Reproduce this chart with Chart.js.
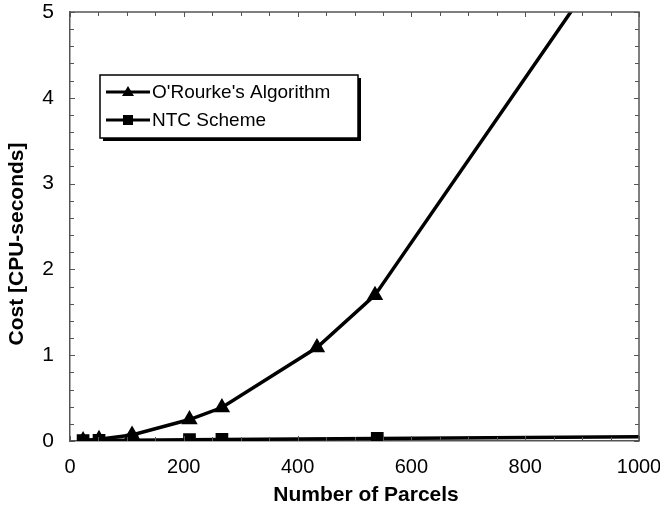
<!DOCTYPE html>
<html>
<head>
<meta charset="utf-8">
<script src="https://cdn.jsdelivr.net/npm/chart.js@4"></script>
<style>
  html, body { margin: 0; padding: 0; background: #fff; }
  #wrap { width: 660px; height: 508px; }
</style>
</head>
<body>
<div id="wrap"><canvas id="costChart" width="660" height="508"></canvas></div>
<script>
// Data
const orourkeParcels = [23, 51, 109, 210, 267, 434, 536, 1000];
const orourkeCost = [0.005, 0.02, 0.07, 0.25, 0.39, 1.09, 1.70, 6.15];
const ntcParcels = [23, 51, 109, 210, 267, 540, 1000];
const ntcCost = [0.005, 0.008, 0.01, 0.015, 0.018, 0.03, 0.05];
const xTicks = [0, 200, 400, 600, 800, 1000];
const yTicks = [0, 1, 2, 3, 4, 5];
const xTitle = "Number of Parcels";
const yTitle = "Cost [CPU-seconds]";

const font = "'Liberation Sans', Arial, sans-serif";

function toPoints(xs, ys) {
  return xs.map((x, i) => ({ x: x, y: ys[i] }));
}

// Inward tick marks on all four sides, plus top/right frame
const tickMarks = {
  id: "tickMarks",
  afterDraw(chart) {
    const { ctx, chartArea: a, scales } = chart;
    ctx.save();
    ctx.strokeStyle = "#555";
    ctx.lineWidth = 1.5;
    ctx.beginPath();
    ctx.moveTo(a.left, a.top); ctx.lineTo(a.right, a.top); ctx.lineTo(a.right, a.bottom);
    ctx.stroke();
    ctx.lineWidth = 1;
    for (let v = 0; v <= 5.0001; v += 0.2) {
      const y = Math.round(scales.y.getPixelForValue(v)) + 0.5;
      const len = Math.abs(v - Math.round(v)) < 0.01 ? 5 : 4;
      ctx.beginPath();
      ctx.moveTo(a.left, y); ctx.lineTo(a.left + len, y);
      ctx.moveTo(a.right, y); ctx.lineTo(a.right - len, y);
      ctx.stroke();
    }
    for (let v = 0; v <= 1000; v += 50) {
      const x = Math.round(scales.x.getPixelForValue(v)) + 0.5;
      const len = v % 200 === 0 ? 5 : 4;
      ctx.beginPath();
      ctx.moveTo(x, a.bottom); ctx.lineTo(x, a.bottom - len);
      ctx.moveTo(x, a.top); ctx.lineTo(x, a.top + len);
      ctx.stroke();
    }
    ctx.restore();
  },
};

// Axis titles sit a little off-centre in the original, so draw them here
const axisTitles = {
  id: "axisTitles",
  afterDraw(chart) {
    const ctx = chart.ctx;
    ctx.save();
    ctx.fillStyle = "#000";
    ctx.font = "bold 21px " + font;
    ctx.textAlign = "center";
    ctx.textBaseline = "middle";
    ctx.fillText(xTitle, 366, 495);
    ctx.translate(17, 244);
    ctx.rotate(-Math.PI / 2);
    ctx.fillText(yTitle, 0, 0);
    ctx.restore();
  },
};

// Boxed legend inside the plot, upper left
const boxLegend = {
  id: "boxLegend",
  afterDraw(chart) {
    const ctx = chart.ctx;
    const left = 100, top = 75, w = 258, h = 63;
    ctx.save();
    ctx.fillStyle = "#000";
    ctx.fillRect(left + 3, top + 3, w, h);
    ctx.fillStyle = "#fff";
    ctx.fillRect(left, top, w, h);
    ctx.strokeStyle = "#000";
    ctx.lineWidth = 1.5;
    ctx.strokeRect(left, top, w, h);
    ctx.font = "19px " + font;
    ctx.textBaseline = "middle";
    chart.data.datasets.forEach((ds, i) => {
      const y = top + 17 + i * 28;
      ctx.strokeStyle = "#000";
      ctx.lineWidth = 3;
      ctx.beginPath();
      ctx.moveTo(left + 6, y);
      ctx.lineTo(left + 50, y);
      ctx.stroke();
      ctx.fillStyle = "#000";
      if (ds.pointStyle === "triangle") {
        ctx.beginPath();
        ctx.moveTo(left + 28, y - 6);
        ctx.lineTo(left + 34, y + 4);
        ctx.lineTo(left + 22, y + 4);
        ctx.closePath();
        ctx.fill();
      } else {
        ctx.fillRect(left + 23, y - 5, 10, 10);
      }
      ctx.fillText(ds.label, left + 52, y + 1);
    });
    ctx.restore();
  },
};

const ctx = document.getElementById("costChart").getContext("2d");
new Chart(ctx, {
  type: "scatter",
  data: {
    datasets: [
      {
        label: "O'Rourke's Algorithm",
        data: toPoints(orourkeParcels, orourkeCost),
        showLine: true,
        borderColor: "#000",
        backgroundColor: "#000",
        borderWidth: 3.5,
        pointStyle: "triangle",
        pointRadius: 6,
        tension: 0,
      },
      {
        label: "NTC Scheme",
        data: toPoints(ntcParcels, ntcCost),
        showLine: true,
        borderColor: "#000",
        backgroundColor: "#000",
        borderWidth: 3.5,
        pointStyle: "rect",
        // the line runs on to 1000 without a marker at its end
        pointRadius: (c) => (c.dataIndex === ntcParcels.length - 1 ? 0 : 6.5),
        tension: 0,
      },
    ],
  },
  options: {
    responsive: false,
    animation: false,
    layout: { padding: { top: 12, right: 0, left: 0, bottom: 0 } },
    plugins: {
      legend: { display: false },
      tooltip: { enabled: false },
    },
    scales: {
      x: {
        type: "linear",
        min: 0,
        max: 1000,
        afterBuildTicks(scale) {
          scale.ticks = xTicks.map((v) => ({ value: v }));
        },
        afterFit(scale) {
          scale.height = 67;
          scale.paddingLeft = 0;
          scale.paddingRight = 21;
        },
        grid: { display: false, drawTicks: false },
        border: { display: true, color: "#555", width: 1.5 },
        ticks: {
          color: "#000",
          font: { family: font, size: 20 },
          padding: 14,
          maxRotation: 0,
          callback: (v) => String(v),
        },
        title: { display: false },
      },
      y: {
        type: "linear",
        min: 0,
        max: 5,
        afterBuildTicks(scale) {
          scale.ticks = yTicks.map((v) => ({ value: v }));
        },
        afterFit(scale) {
          scale.width = 70;
          scale.paddingTop = 0;
          scale.paddingBottom = 0;
        },
        grid: { display: false, drawTicks: false },
        border: { display: true, color: "#555", width: 1.5 },
        ticks: { color: "#000", font: { family: font, size: 21 }, padding: 16 },
        title: { display: false },
      },
    },
  },
  plugins: [tickMarks, axisTitles, boxLegend],
});
</script>
</body>
</html>
